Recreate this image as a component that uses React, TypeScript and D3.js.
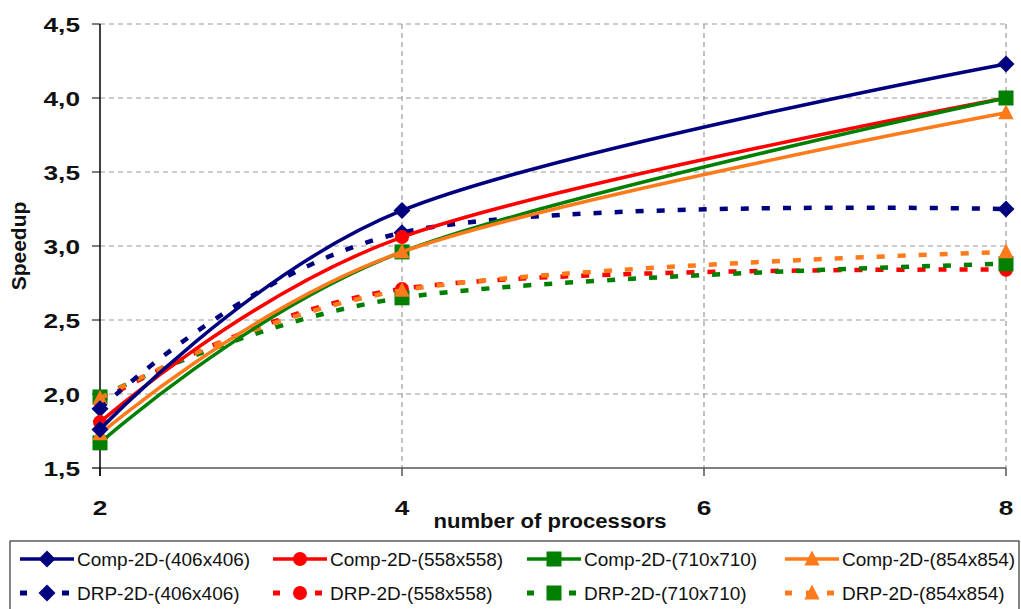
import React from "react";
import * as d3 from "d3";

const processors = [2, 4, 8];
const comp406 = [1.76, 3.24, 4.23];
const comp558 = [1.81, 3.06, 4.0];
const comp710 = [1.67, 2.96, 4.0];
const comp854 = [1.73, 2.96, 3.9];
const drp406 = [1.9, 3.09, 3.25];
const drp558 = [1.95, 2.71, 2.84];
const drp710 = [1.98, 2.65, 2.88];
const drp854 = [1.97, 2.7, 2.96];

const yTicks = [1.5, 2.0, 2.5, 3.0, 3.5, 4.0, 4.5];
const xTicks = [2, 4, 6, 8];

type Series = { name: string; values: number[]; color: string; marker: string; dashed: boolean };

const series: Series[] = [
  { name: "DRP-2D-(558x558)", values: drp558, color: "#ff0000", marker: "circle", dashed: true },
  { name: "DRP-2D-(710x710)", values: drp710, color: "#007f00", marker: "square", dashed: true },
  { name: "DRP-2D-(854x854)", values: drp854, color: "#ff7a1a", marker: "triangle", dashed: true },
  { name: "DRP-2D-(406x406)", values: drp406, color: "#00007f", marker: "diamond", dashed: true },
  { name: "Comp-2D-(558x558)", values: comp558, color: "#ff0000", marker: "circle", dashed: false },
  { name: "Comp-2D-(710x710)", values: comp710, color: "#007f00", marker: "square", dashed: false },
  { name: "Comp-2D-(854x854)", values: comp854, color: "#ff7a1a", marker: "triangle", dashed: false },
  { name: "Comp-2D-(406x406)", values: comp406, color: "#00007f", marker: "diamond", dashed: false },
];

const legendOrder = [
  "Comp-2D-(406x406)", "Comp-2D-(558x558)", "Comp-2D-(710x710)", "Comp-2D-(854x854)",
  "DRP-2D-(406x406)", "DRP-2D-(558x558)", "DRP-2D-(710x710)", "DRP-2D-(854x854)",
];

function Marker({ type, x, y, color }: { type: string; x: number; y: number; color: string }) {
  if (type === "diamond") {
    const r = 8.5;
    return <path d={`M${x},${y - r}L${x + r},${y}L${x},${y + r}L${x - r},${y}Z`} fill={color} />;
  }
  if (type === "circle") return <circle cx={x} cy={y} r={7} fill={color} />;
  if (type === "square") return <rect x={x - 7.5} y={y - 7.5} width={15} height={15} fill={color} />;
  const r = 8.5;
  return <path d={`M${x},${y - r}L${x + r * 0.9},${y + r * 0.75}L${x - r * 0.9},${y + r * 0.75}Z`} fill={color} />;
}

export default function App() {
  const W = 1021, H = 609;
  const x = d3.scaleLinear().domain([2, 8]).range([100, 1006]);
  const y = d3.scaleLinear().domain([1.5, 4.5]).range([468, 24]);
  const line = d3
    .line<number>()
    .x((_, i) => x(processors[i]))
    .y((d) => y(d))
    .curve(d3.curveCardinal.tension(0));

  const lx = [17, 270, 524, 782];
  const ly = [559, 593];

  return (
    <svg width={W} height={H} style={{ position: "absolute", left: 0, top: 0 }} fontFamily="Liberation Sans, Arial, sans-serif">
      <rect width={W} height={H} fill="#fff" />
      {yTicks.filter((t) => t > 1.5).map((t) => (
        <line key={"gy" + t} x1={x(2)} x2={x(8)} y1={y(t)} y2={y(t)} stroke="#999" strokeWidth={1.2} strokeDasharray="5,4" />
      ))}
      {xTicks.filter((t) => t > 2).map((t) => (
        <line key={"gx" + t} x1={x(t)} x2={x(t)} y1={y(4.5)} y2={y(1.5)} stroke="#999" strokeWidth={1.2} strokeDasharray="5,4" />
      ))}
      <line x1={92} x2={x(8)} y1={y(1.5)} y2={y(1.5)} stroke="#555" strokeWidth={1.5} />
      {xTicks.map((t) => (
        <line key={"tx" + t} x1={x(t)} x2={x(t)} y1={y(1.5)} y2={y(1.5) + 8} stroke="#555" strokeWidth={1.5} />
      ))}
      {yTicks.map((t) => (
        <line key={"ty" + t} x1={92} x2={100} y1={y(t)} y2={y(t)} stroke="#555" strokeWidth={1.5} />
      ))}
      <line x1={x(2)} x2={x(2)} y1={y(4.5)} y2={y(1.5) + 8} stroke="#000" strokeWidth={1.5} />
      {yTicks.map((t) => (
        <text key={"ly" + t} transform={`translate(80,${y(t) + 7.5}) scale(1.25,1)`} textAnchor="end" fontSize={21} fontWeight="bold" fill="#111">
          {t.toFixed(1).replace(".", ",")}
        </text>
      ))}
      {xTicks.map((t) => (
        <text key={"lx" + t} transform={`translate(${x(t)},${515}) scale(1.25,1)`} textAnchor="middle" fontSize={21} fontWeight="bold" fill="#111">
          {t}
        </text>
      ))}
      <text x={550} y={528} textAnchor="middle" fontSize={20} fontWeight="bold" fill="#111" textLength={233} lengthAdjust="spacingAndGlyphs">
        number of processors
      </text>
      <text transform="translate(26,246) rotate(-90)" textAnchor="middle" fontSize={21} fontWeight="bold" fill="#111">
        Speedup
      </text>
      {series.map((s) => (
        <g key={s.name}>
          <path d={line(s.values) || ""} fill="none" stroke={s.color} strokeWidth={s.dashed ? 4.5 : 3.5} strokeDasharray={s.dashed ? "8,13" : undefined} />
          {s.values.map((v, i) => (
            <Marker key={i} type={s.marker} x={x(processors[i])} y={y(v)} color={s.color} />
          ))}
        </g>
      ))}
      <rect x={10} y={541} width={1009} height={80} fill="#fff" stroke="#333" strokeWidth={1.2} />
      {legendOrder.map((name, i) => {
        const s = series.find((d) => d.name === name)!;
        const col = i % 4, row = Math.floor(i / 4);
        const x0 = lx[col], yy = ly[row];
        return (
          <g key={"lg" + name}>
            <line x1={x0 + 3} x2={x0 + 57} y1={yy} y2={yy} stroke={s.color} strokeWidth={s.dashed ? 5 : 3.5} strokeDasharray={s.dashed ? "7,14" : undefined} />
            <Marker type={s.marker} x={x0 + 30} y={yy} color={s.color} />
            <text x={x0 + 60} y={yy + 7} fontSize={19} fill="#111">
              {name}
            </text>
          </g>
        );
      })}
    </svg>
  );
}
